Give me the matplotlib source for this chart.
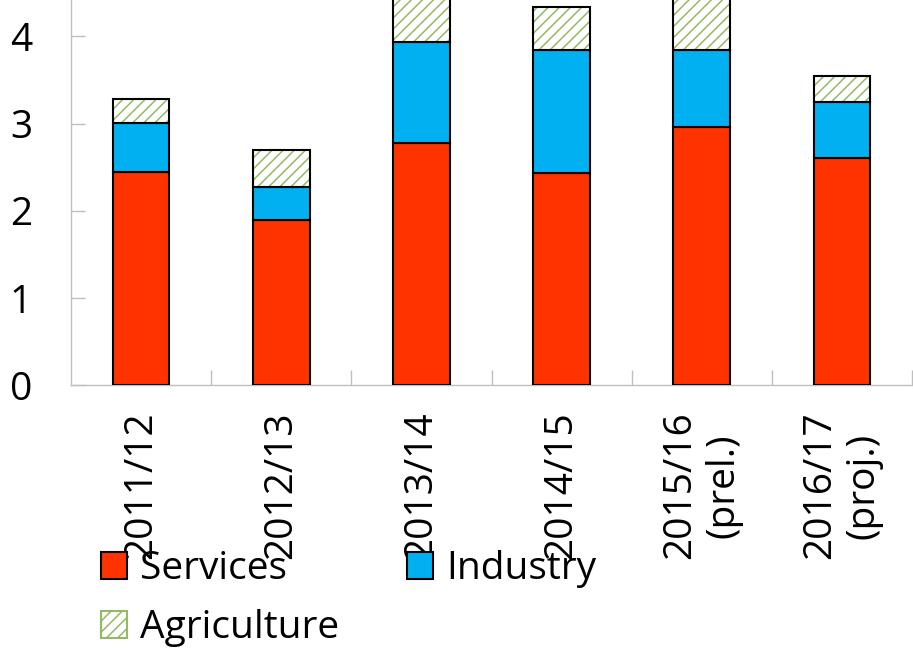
import numpy as np
import matplotlib
matplotlib.use("Agg")
import matplotlib.pyplot as plt
from matplotlib.patches import Patch

plt.rcParams['font.family'] = ['Open Sans', 'DejaVu Sans']
plt.rcParams['hatch.linewidth'] = 1.1

# Contributions to growth by sector (percentage points)
years = ["2011/12", "2012/13", "2013/14", "2014/15", "2015/16\n(prel.)", "2016/17\n(proj.)"]
services = [2.45, 1.89, 2.78, 2.43, 2.96, 2.61]
industry = [0.56, 0.38, 1.15, 1.41, 0.88, 0.64]
agriculture = [0.27, 0.43, 0.65, 0.50, 0.70, 0.29]
y_ticks = [0, 1, 2, 3, 4]

RED = "#FF3300"
BLUE = "#00B0F0"
GREEN = "#93BA63"
GRID = "#BFBFBF"
FS = 28
EDGE_LW = 1.5

W, H = 913, 652
fig = plt.figure(figsize=(W / 100, H / 100), dpi=100)
ax = fig.add_axes([71 / W, 1 - 385.3 / H, (912 - 71) / W, 385.3 / H])

x = np.arange(len(years))
width = 0.405
s = np.array(services)
i = np.array(industry)
a = np.array(agriculture)

ax.bar(x, s, width, color=RED, edgecolor="black", linewidth=EDGE_LW, zorder=3)
ax.bar(x, i, width, bottom=s, color=BLUE, edgecolor="black", linewidth=EDGE_LW, zorder=3)
# hatched agriculture segment: green hatch, then black outline on top
ax.bar(x, a, width, bottom=s + i, color="white", edgecolor=GREEN, hatch="///",
       linewidth=0, zorder=3)
ax.bar(x, a, width, bottom=s + i, fill=False, edgecolor="black", linewidth=EDGE_LW, zorder=4)

ax.set_xlim(-0.5, len(years) - 0.5)
ax.set_ylim(0, 385.3 / 87.25)

for side in ("top", "right"):
    ax.spines[side].set_visible(False)
for side in ("left", "bottom"):
    ax.spines[side].set_color(GRID)
    ax.spines[side].set_linewidth(1.0)

ax.set_yticks(y_ticks)
ax.set_yticklabels([str(t) for t in y_ticks])
ax.tick_params(axis="y", direction="in", length=10, width=1.0, color=GRID,
               labelsize=FS, pad=28)

ax.set_xticks(x)
ax.set_xticklabels(years, rotation=90, ha="center", va="top",
                   multialignment="center", fontsize=FS)
ax.set_xticks(np.arange(len(years)) + 0.5, minor=True)
ax.tick_params(axis="x", which="major", length=0, pad=19)
ax.tick_params(axis="x", which="minor", direction="in", length=11, width=1.0, color=GRID)

handles = [
    Patch(facecolor=RED, edgecolor="black", linewidth=EDGE_LW, label="Services"),
    Patch(facecolor="white", edgecolor=GREEN, hatch="///", linewidth=EDGE_LW, label="Agriculture"),
    Patch(facecolor=BLUE, edgecolor="black", linewidth=EDGE_LW, label="Industry"),
]
leg = fig.legend(handles=handles, ncol=2, loc="upper left",
                 bbox_to_anchor=(101 / W, 1 - 550 / H), frameon=False,
                 fontsize=FS, handlelength=0.67, handleheight=0.69,
                 handletextpad=0.33, columnspacing=1.75, labelspacing=0.55,
                 borderpad=0, borderaxespad=0)

fig.savefig("out.png", dpi=100)
